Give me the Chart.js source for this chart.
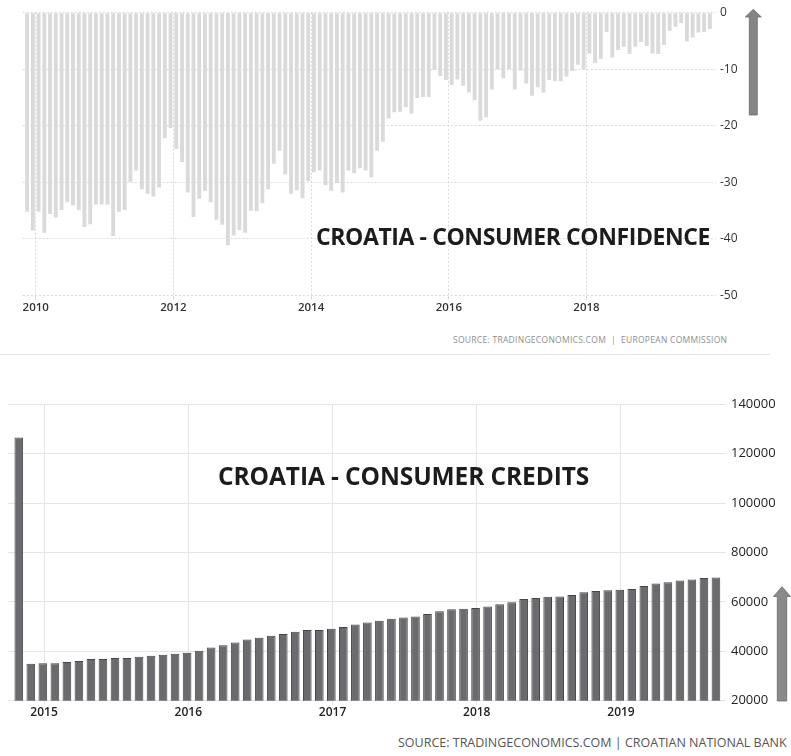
<!DOCTYPE html>
<html lang="en">
<head>
<meta charset="UTF-8" />
<title>Croatia - consumer confidence and consumer credits</title>
<script src="https://cdn.jsdelivr.net/npm/chart.js"></script>
<style>
  body { margin: 0; background: #fff; }
  #page { position: relative; width: 791px; height: 756px; overflow: hidden; font-family: "Open Sans", sans-serif; }
  canvas { position: absolute; left: 0; }
  .title { position: absolute; font-weight: 700; color: #1c1c1c; white-space: nowrap; line-height: 1; }
  .source { position: absolute; white-space: nowrap; line-height: 1; }
  #arrows { position: absolute; left: 0; top: 0; }
</style>
</head>
<body>
<div id="page">
  <canvas id="confidenceChart" style="top:0" width="791" height="321"></canvas>
  <canvas id="creditsChart" style="top:380px" width="791" height="345"></canvas>

  <div class="title" style="left:316px; top:225px; font-size:23px; letter-spacing:-0.4px;">CROATIA - CONSUMER CONFIDENCE</div>
  <div class="title" style="left:218px; top:464px; font-size:24.5px; letter-spacing:-0.1px;">CROATIA - CONSUMER CREDITS</div>

  <div class="source" style="left:453px; top:336px; font-size:8.5px; color:#8e8e8e; letter-spacing:0.28px;">SOURCE: TRADINGECONOMICS.COM &nbsp;|&nbsp; EUROPEAN COMMISSION</div>
  <div style="position:absolute; left:0; top:354px; width:770px; height:1px; background:#e6e6e6;"></div>
  <div class="source" style="left:398px; top:737px; font-size:12.5px; color:#555;">SOURCE: TRADINGECONOMICS.COM | CROATIAN NATIONAL BANK</div>

  <svg id="arrows" width="791" height="756">
    <polygon points="753.3,9.3 761.3,17 757.3,17 757.3,115 749.3,115 749.3,17 745.3,17" fill="#858585" stroke="#6a6a6a" stroke-width="0.8"/>
    <polygon points="782,586.7 790.5,596.5 786.7,596.5 786.7,701 777.3,701 777.3,596.5 773.5,596.5" fill="#8a8a8a" stroke="#6a6a6a" stroke-width="0.8"/>
  </svg>
</div>

<script>
  // consumer confidence, monthly from Nov 2009
  const confidenceStart = [2009, 11];
  const confidenceValues = [
    -35.2, -38.5, -35.2, -38.9, -35.6, -36.2, -34.9, -33.5, -34.1, -34.9,
    -37.9, -37.4, -33.9, -33.9, -33.9, -39.5, -35.2, -34.9, -29.9, -27.9,
    -31.2, -32.0, -32.5, -30.9, -22.2, -20.4, -24.1, -26.4, -31.8, -36.1,
    -32.9, -31.5, -33.5, -36.6, -37.5, -41.1, -39.4, -38.4, -38.9, -35.0,
    -35.1, -33.7, -31.2, -26.7, -24.4, -28.6, -32.0, -31.4, -32.8, -29.8,
    -28.2, -27.9, -30.5, -31.5, -30.1, -31.8, -27.9, -28.4, -27.5, -27.9,
    -29.1, -24.4, -22.8, -18.7, -17.6, -17.5, -16.7, -17.8, -15.1, -14.9,
    -14.9, -10.1, -11.2, -11.9, -12.8, -11.8, -12.9, -14.1, -15.5, -19.1,
    -18.5, -13.6, -10.0, -11.6, -10.0, -13.6, -10.2, -12.5, -14.7, -13.2,
    -14.1, -11.9, -12.1, -12.1, -11.3, -10.3, -9.2, -10.0, -7.2, -8.9,
    -8.2, -3.4, -7.9, -6.6, -6.0, -7.3, -6.0, -5.2, -5.9, -7.2,
    -7.3, -5.7, -3.2, -2.5, -1.8, -5.1, -4.4, -3.5, -3.4, -2.9
  ];
  const confidenceYears = [2010, 2012, 2014, 2016, 2018];
  const confidenceTicks = [0, -10, -20, -30, -40, -50];

  // consumer credits, monthly from Nov 2014
  const creditsStart = [2014, 11];
  const creditsValues = [
    126600, 35000, 35200, 35200, 35700, 36100, 36900, 36900, 37300, 37300,
    37800, 38200, 38600, 39000, 39400, 40200, 41500, 42500, 43600, 44800,
    45500, 46300, 47000, 47900, 48600, 48600, 49100, 49800, 50900, 51700,
    52400, 53200, 53700, 54100, 55100, 56200, 57000, 57200, 57500, 58100,
    59000, 59900, 61200, 61600, 62100, 62200, 62800, 63900, 64400, 64700,
    64900, 65200, 66400, 67400, 68000, 68700, 69100, 69700, 69900
  ];
  const creditsYears = [2015, 2016, 2017, 2018, 2019];
  const creditsTicks = [20000, 40000, 60000, 80000, 100000, 120000, 140000];

  Chart.defaults.font.family = "'Open Sans', sans-serif";

  // position of a monthly bar on a decimal-year axis
  function monthX(start, i, shift) {
    return start[0] + (start[1] - 1 + i + shift) / 12;
  }

  const fixedTicks = (values) => (scale) => {
    scale.ticks = values.map((v) => ({ value: v }));
  };

  new Chart(document.getElementById("confidenceChart"), {
    type: "bar",
    data: {
      datasets: [
        {
          data: confidenceValues.map((v, i) => ({ x: monthX(confidenceStart, i, 0.5), y: v })),
          backgroundColor: "#dadada",
          borderWidth: 0,
          barPercentage: 0.68,
          categoryPercentage: 1,
        },
      ],
    },
    options: {
      responsive: false,
      animation: false,
      layout: { padding: { left: 22.7, top: 12.7, right: 0, bottom: 0 } },
      plugins: { legend: { display: false }, tooltip: { enabled: false } },
      scales: {
        x: {
          type: "linear",
          min: 2009.811,
          max: 2019.881,
          offset: false,
          afterBuildTicks: fixedTicks(confidenceYears),
          afterFit: (s) => { s.height = 25.5; },
          grid: { offset: false, color: "#d9d9d9", tickLength: 4, tickColor: "#d9d9d9" },
          border: { display: false, dash: [2, 2] },
          ticks: { padding: 1, color: "#333", font: { size: 11.5, weight: "600" }, callback: (v) => String(v) },
        },
        y: {
          position: "right",
          min: -50,
          max: 0,
          afterBuildTicks: fixedTicks(confidenceTicks),
          afterFit: (s) => { s.width = 75; },
          grid: { color: "#d9d9d9", drawTicks: false },
          border: { display: false, dash: [2, 2] },
          ticks: { padding: 4, color: "#333", font: { size: 12 } },
        },
      },
    },
  });

  new Chart(document.getElementById("creditsChart"), {
    type: "bar",
    data: {
      datasets: [
        {
          data: creditsValues.map((v, i) => ({ x: monthX(creditsStart, i, -0.1), y: v })),
          backgroundColor: "#6b6b6f",
          borderColor: "#444",
          borderWidth: 1,
          barPercentage: 0.72,
          categoryPercentage: 1,
        },
      ],
    },
    options: {
      responsive: false,
      animation: false,
      layout: { padding: { left: 8, top: 24.3, right: 0, bottom: 0 } },
      plugins: { legend: { display: false }, tooltip: { enabled: false } },
      scales: {
        x: {
          type: "linear",
          min: 2014.75,
          max: 2019.728,
          offset: false,
          afterBuildTicks: fixedTicks(creditsYears),
          afterFit: (s) => { s.height = 24.3; },
          grid: { offset: false, color: "#e4e4e4", tickLength: 4, tickColor: "#e4e4e4" },
          border: { display: false },
          ticks: { padding: 1, color: "#222", font: { size: 12, weight: "600" }, callback: (v) => String(v) },
        },
        y: {
          position: "right",
          min: 20000,
          max: 140000,
          afterBuildTicks: fixedTicks(creditsTicks),
          afterFit: (s) => { s.width = 65; },
          grid: { color: "#e4e4e4", drawTicks: false },
          border: { display: false },
          ticks: { padding: 5, color: "#222", font: { size: 13 }, callback: (v) => String(v) },
        },
      },
    },
  });
</script>
</body>
</html>
